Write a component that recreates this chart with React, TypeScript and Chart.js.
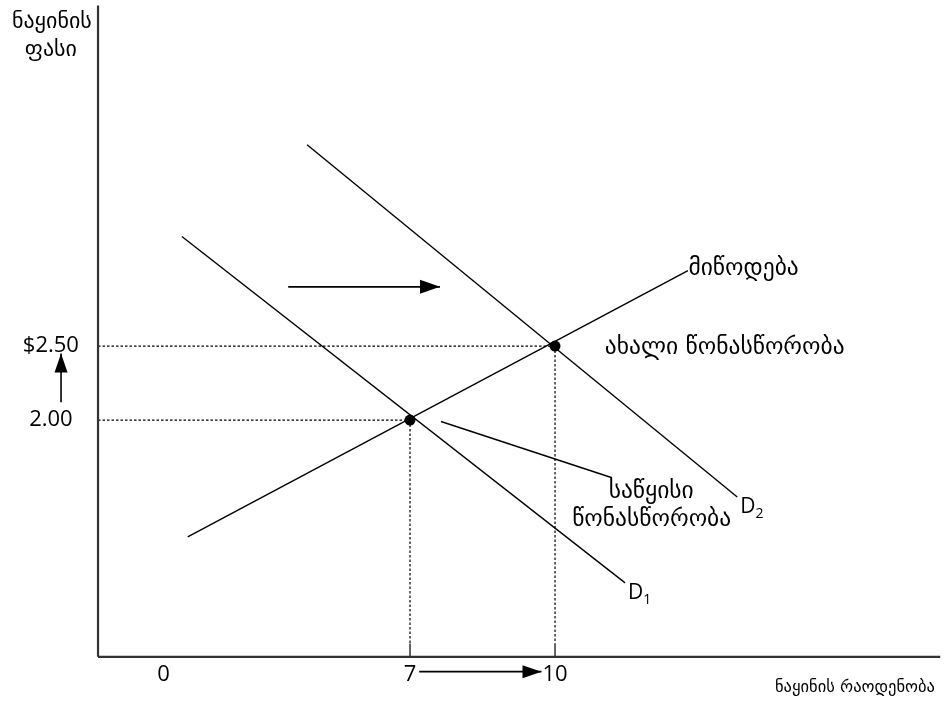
import { useEffect, useRef } from 'react';
import { Chart, registerables } from 'chart.js';

Chart.register(...registerables);

// ---- Data (quantity on x, price on y, in the diagram's own units) ----
const supplyQ = [2.4, 12.75];
const supplyP = [1.21, 3.01];
const demand1Q = [2.28, 11.45];
const demand1P = [3.24, 0.9];
const demand2Q = [4.87, 13.77];
const demand2P = [3.86, 1.48];
const equilibriumQ = [7, 10];
const equilibriumP = [2.0, 2.5];

const priceTickValues = [2.5, 2.0];
const priceTickLabels = ['$2.50', '2.00'];
const quantityTickValues = [1.9, 7, 10];
const quantityTickLabels = ['0', '7', '10'];

// axes of the diagram
const axisQ = [0.545, 17.97];
const axisP = [0.4, 4.8];

// arrows: [fromQ, toQ] / [fromP, toP]
const demandShiftQ = [4.48, 7.62];
const demandShiftP = [2.9, 2.9];
const quantityRiseQ = [7.19, 9.72];
const quantityRiseP = [0.3, 0.3];
const priceRiseQ = [-0.22, -0.22];
const priceRiseP = [2.12, 2.45];

// pointer from the label to the initial equilibrium
const pointerQ = [7.64, 11.18];
const pointerP = [1.99, 1.61];

const tickMarkP = 0.49;

const yTitleLines = ['ნაყინის', 'ფასი'];
const xTitle = 'ნაყინის რაოდენობა';
const supplyLabel = 'მიწოდება';
const newEqLabel = 'ახალი წონასწორობა';
const initEqLines = ['საწყისი', 'წონასწორობა'];

const X_MIN = -1.483;
const X_MAX = 18.151;
const Y_MIN = 0.095;
const Y_MAX = 4.838;

const GEO_FONT = '"DejaVu Sans", sans-serif';
const NUM_FONT = '"Open Sans", "Noto Sans", sans-serif';

function seg(q: number[], p: number[]) {
  return q.map((v, i) => ({ x: v, y: p[i] }));
}

export default function App() {
  const ref = useRef<HTMLCanvasElement | null>(null);

  useEffect(() => {
    if (!ref.current) return;

    const solid = (data: any[], width = 1.4, color = '#000') => ({
      data,
      showLine: true,
      borderColor: color,
      borderWidth: width,
      pointRadius: 0,
      fill: false,
    });
    const dotted = (data: any[]) => ({
      ...solid(data, 1.2),
      borderDash: [2.5, 2],
    });

    const arrowPlugin = {
      id: 'annot',
      afterDatasetsDraw(chart: any) {
        const ctx = chart.ctx;
        const xs = chart.scales.x;
        const ys = chart.scales.y;
        const px = (q: number) => xs.getPixelForValue(q);
        const py = (p: number) => ys.getPixelForValue(p);

        const head = (q0: number, p0: number, q1: number, p1: number, len: number, half: number) => {
          const x0 = px(q0), y0 = py(p0), x1 = px(q1), y1 = py(p1);
          const ang = Math.atan2(y1 - y0, x1 - x0);
          ctx.save();
          ctx.fillStyle = '#000';
          ctx.beginPath();
          ctx.moveTo(x1, y1);
          ctx.lineTo(x1 - len * Math.cos(ang) + half * Math.sin(ang), y1 - len * Math.sin(ang) - half * Math.cos(ang));
          ctx.lineTo(x1 - len * Math.cos(ang) - half * Math.sin(ang), y1 - len * Math.sin(ang) + half * Math.cos(ang));
          ctx.closePath();
          ctx.fill();
          ctx.restore();
        };
        head(demandShiftQ[0], demandShiftP[0], demandShiftQ[1], demandShiftP[1], 20, 7);
        head(quantityRiseQ[0], quantityRiseP[0], quantityRiseQ[1], quantityRiseP[1], 19, 6.5);
        head(priceRiseQ[0], priceRiseP[0], priceRiseQ[1], priceRiseP[1], 19, 6.5);

        const text = (t: string, q: number, p: number, font: string, align: CanvasTextAlign = 'center') => {
          ctx.save();
          ctx.fillStyle = '#000';
          ctx.font = font;
          ctx.textAlign = align;
          ctx.textBaseline = 'middle';
          ctx.fillText(t, px(q), py(p));
          ctx.restore();
        };

        // y title
        text(yTitleLines[0], -0.41, 4.69, `22px ${GEO_FONT}`);
        text(yTitleLines[1], -0.43, 4.5, `22px ${GEO_FONT}`);
        // price ticks
        priceTickValues.forEach((v, i) => text(priceTickLabels[i], -0.43, v, `22px ${NUM_FONT}`));
        // quantity ticks
        quantityTickValues.forEach((v, i) => text(quantityTickLabels[i], v, 0.28, `22px ${NUM_FONT}`));
        // x title
        text(xTitle, 17.86, 0.19, `16.5px ${GEO_FONT}`, 'right');
        // curve labels
        text(supplyLabel, 12.76, 3.02, `23.5px ${GEO_FONT}`, 'left');
        text(newEqLabel, 11.03, 2.49, `23.5px ${GEO_FONT}`, 'left');
        text(initEqLines[0], 11.99, 1.515, `23.5px ${GEO_FONT}`);
        text(initEqLines[1], 12.0, 1.325, `23.5px ${GEO_FONT}`);

        const dLabel = (sub: string, q: number, p: number) => {
          ctx.save();
          ctx.fillStyle = '#000';
          ctx.textAlign = 'left';
          ctx.textBaseline = 'middle';
          ctx.font = `21px ${NUM_FONT}`;
          const x = px(q), y = py(p);
          ctx.fillText('D', x, y);
          const w = ctx.measureText('D').width;
          ctx.font = `14px ${NUM_FONT}`;
          ctx.fillText(sub, x + w, y + 7);
          ctx.restore();
        };
        dLabel('2', 13.83, 1.41);
        dLabel('1', 11.51, 0.83);
      },
    };

    const chart = new Chart(ref.current, {
      type: 'scatter',
      data: {
        datasets: [
          // axes
          solid(seg([axisQ[0], axisQ[0]], [axisP[1], axisP[0]]), 2.2, '#333'),
          solid(seg([axisQ[0], axisQ[1]], [axisP[0], axisP[0]]), 2.2, '#333'),
          // guides
          dotted(seg([axisQ[0], equilibriumQ[1]], [equilibriumP[1], equilibriumP[1]])),
          dotted(seg([axisQ[0], equilibriumQ[0]], [equilibriumP[0], equilibriumP[0]])),
          dotted(seg([equilibriumQ[0], equilibriumQ[0]], [equilibriumP[0], tickMarkP])),
          dotted(seg([equilibriumQ[1], equilibriumQ[1]], [equilibriumP[1], tickMarkP])),
          solid(seg([equilibriumQ[0], equilibriumQ[0]], [tickMarkP, axisP[0]]), 1.2),
          solid(seg([equilibriumQ[1], equilibriumQ[1]], [tickMarkP, axisP[0]]), 1.2),
          // curves
          solid(seg(supplyQ, supplyP)),
          solid(seg(demand1Q, demand1P)),
          solid(seg(demand2Q, demand2P)),
          // arrows & pointer
          solid(seg(demandShiftQ, demandShiftP), 1.6),
          solid(seg(quantityRiseQ, quantityRiseP), 1.6),
          solid(seg(priceRiseQ, priceRiseP), 1.6),
          solid(seg(pointerQ, pointerP), 1.4),
          // equilibria
          {
            data: seg(equilibriumQ, equilibriumP),
            showLine: false,
            pointRadius: 5.5,
            pointBackgroundColor: '#000',
            pointBorderColor: '#000',
            pointBorderWidth: 0,
          },
        ],
      },
      options: {
        animation: false,
        responsive: false,
        maintainAspectRatio: false,
        layout: { padding: 0, autoPadding: false },
        plugins: { legend: { display: false }, tooltip: { enabled: false } },
        events: [],
        scales: {
          x: { type: 'linear', min: X_MIN, max: X_MAX, display: false },
          y: { type: 'linear', min: Y_MIN, max: Y_MAX, display: false },
        },
      },
      plugins: [arrowPlugin],
    });
    return () => chart.destroy();
  }, []);

  return (
    <div style={{ position: 'fixed', left: 0, top: 0, width: 949, height: 702, background: '#fff' }}>
      <canvas ref={ref} width={949} height={702} style={{ width: 949, height: 702 }} />
    </div>
  );
}
